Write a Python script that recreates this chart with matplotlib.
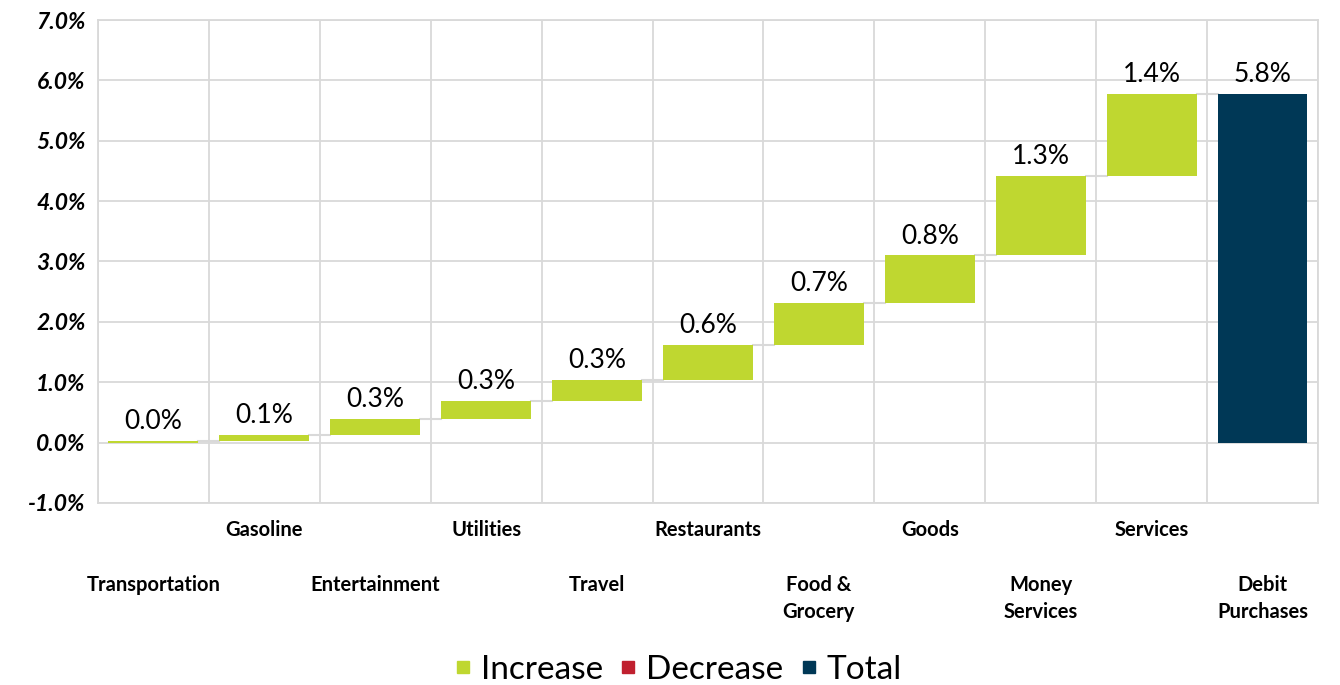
import matplotlib
matplotlib.use("Agg")
import matplotlib.pyplot as plt
from matplotlib.lines import Line2D
from matplotlib.ticker import FuncFormatter, MultipleLocator
import numpy as np

plt.rcParams["font.family"] = ["Lato", "DejaVu Sans"]

categories = [
    "Transportation", "Gasoline", "Entertainment", "Utilities", "Travel",
    "Restaurants", "Food &\nGrocery", "Goods", "Money\nServices", "Services",
    "Debit\nPurchases",
]
# contribution of each category, in percentage points
changes = [0.03, 0.10, 0.26, 0.30, 0.34, 0.58, 0.71, 0.78, 1.32, 1.36]

GREEN = "#bfd730"
RED = "#c0202f"
NAVY = "#003856"
GRID = "#d9d9d9"

tops = np.cumsum(changes)
bottoms = tops - np.array(changes)
total = tops[-1]

fig = plt.figure(figsize=(13.4, 6.85), dpi=100)
ax = fig.add_axes([0.0731, 0.2657, 0.9105, 0.7051])

n = len(categories)
x = np.arange(n)
width = 0.81

ax.bar(x[:-1], changes, bottom=bottoms, width=width, color=GREEN, zorder=3)
ax.bar(x[-1], total, width=width, color=NAVY, zorder=3)

# connectors between consecutive bars
for i, lvl in enumerate(tops):
    ax.plot([i + width / 2, i + 1 - width / 2], [lvl, lvl], color=GRID, lw=1.5, zorder=2)

# value labels
values = list(changes) + [total]
label_y = list(tops) + [total]
for xi, v, y in zip(x, values, label_y):
    ax.annotate(f"{v:.1f}%", (xi, y), xytext=(0, 5), textcoords="offset points",
                ha="center", va="bottom", fontsize=19, color="black", zorder=5)

ax.set_xlim(-0.5, n - 0.5)
ax.set_ylim(-1, 7)
ax.yaxis.set_major_locator(MultipleLocator(1))
ax.yaxis.set_major_formatter(FuncFormatter(lambda v, _: f"{v:.1f}%"))
for lab in ax.get_yticklabels():
    lab.set_fontweight("bold")
    lab.set_fontstyle("italic")
    lab.set_fontsize(16.5)
ax.tick_params(axis="y", length=0, pad=9)

ax.set_xticks(np.arange(-0.5, n, 1.0), minor=True)
ax.set_xticks([])
ax.tick_params(axis="x", which="both", length=0)
ax.grid(True, axis="y", which="major", color=GRID, lw=1.3, zorder=0)
ax.grid(True, axis="x", which="minor", color=GRID, lw=1.3, zorder=0)
for sp in ax.spines.values():
    sp.set_color(GRID)
    sp.set_linewidth(1.3)

# category names staggered over two rows
for i, name in enumerate(categories):
    offset = -12 if i % 2 == 1 else -52
    ax.annotate(name, (i, 0), xycoords=("data", "axes fraction"), xytext=(0, offset),
                textcoords="offset points", ha="center", va="top", fontsize=14.5,
                fontweight="bold", linespacing=1.45)

handles = [
    Line2D([], [], marker="s", ls="", color=GREEN, markersize=9),
    Line2D([], [], marker="s", ls="", color=RED, markersize=9),
    Line2D([], [], marker="s", ls="", color=NAVY, markersize=9),
]
fig.legend(handles, ["Increase", "Decrease", "Total"], loc="center",
           bbox_to_anchor=(0.503, 0.022), ncol=3, frameon=False, fontsize=24,
           handletextpad=0.05, columnspacing=0.25, handlelength=1.0)

fig.savefig("out.png", dpi=100)
